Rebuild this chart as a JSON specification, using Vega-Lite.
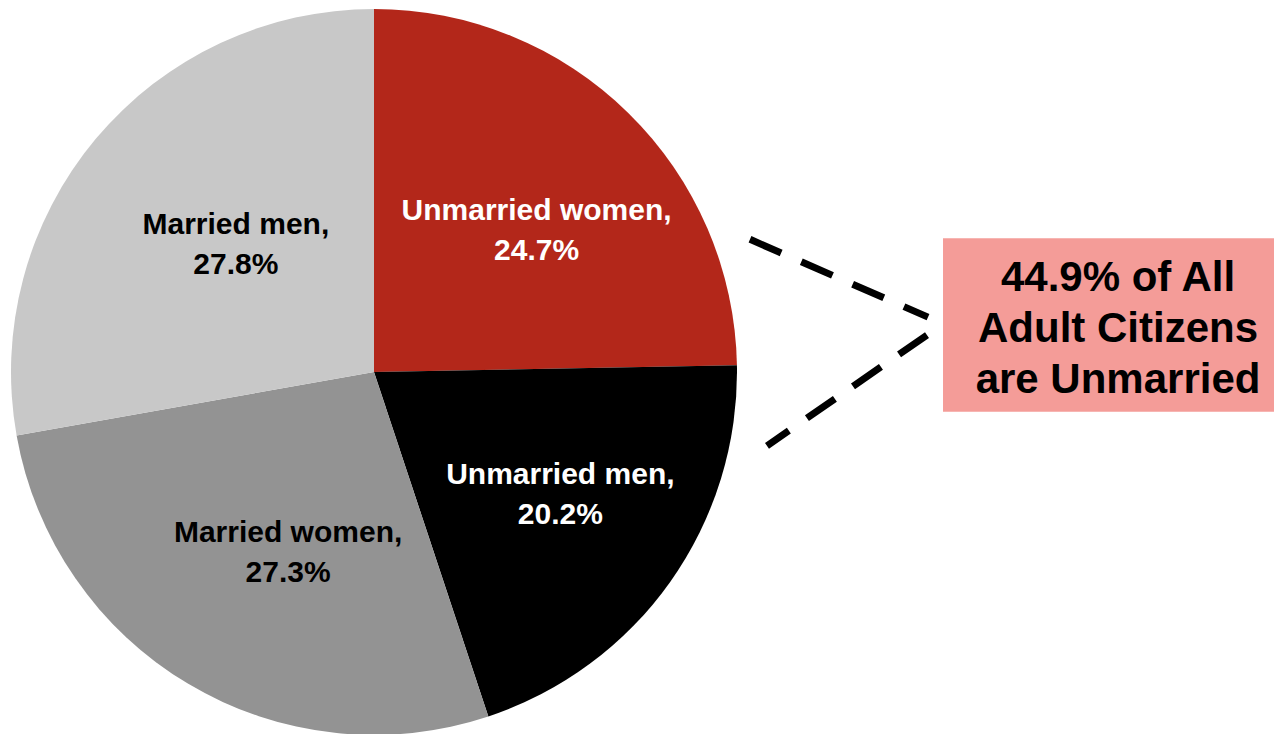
{
  "$schema": "https://vega.github.io/schema/vega-lite/v6.json",
  "width": 1274,
  "height": 734,
  "autosize": {"type": "fit", "contains": "padding"},
  "padding": 0,
  "background": "white",
  "config": {"view": {"stroke": null}, "axis": {"disable": true}, "legend": {"disable": true}},
  "datasets": {
    "slices": [
      {"group": "Unmarried women", "share": 0.247, "order": 1},
      {"group": "Unmarried men", "share": 0.202, "order": 2},
      {"group": "Married women", "share": 0.273, "order": 3},
      {"group": "Married men", "share": 0.278, "order": 4}
    ]
  },
  "layer": [
    {
      "data": {"name": "slices"},
      "mark": {"type": "arc", "radius": 363},
      "encoding": {
        "x": {"datum": 0, "type": "quantitative", "scale": {"domain": [-1.0303, 2.4793], "nice": false, "zero": false}},
        "y": {"datum": 0, "type": "quantitative", "scale": {"domain": [-0.9945, 1.0275], "nice": false, "zero": false}},
        "theta": {"field": "share", "type": "quantitative", "stack": true},
        "order": {"field": "order", "type": "quantitative"},
        "color": {"field": "group", "type": "nominal", "scale": {"domain": ["Unmarried women", "Unmarried men", "Married women", "Married men"], "range": ["#B3271A", "#000000", "#939393", "#C8C8C8"]}}
      }
    },
    {
      "data": {"name": "slices"},
      "transform": [{"calculate": "datum.group + ',\\n' + format(datum.share, '.1%')", "as": "label"}],
      "mark": {"type": "text", "radius": 205, "dx": 19, "dy": -15, "font": "Liberation Sans", "fontSize": 30, "fontWeight": "bold", "lineBreak": "\n", "lineHeight": 40, "align": "center", "baseline": "middle"},
      "encoding": {
        "x": {"datum": 0, "type": "quantitative", "scale": {"domain": [-1.0303, 2.4793], "nice": false, "zero": false}},
        "y": {"datum": 0, "type": "quantitative", "scale": {"domain": [-0.9945, 1.0275], "nice": false, "zero": false}},
        "theta": {"field": "share", "type": "quantitative", "stack": true},
        "order": {"field": "order", "type": "quantitative"},
        "text": {"field": "label", "type": "nominal"},
        "color": {"condition": {"test": "datum.order <= 2", "value": "#FFFFFF"}, "value": "#000000"}
      }
    },
    {
      "data": {"values": [{}]},
      "mark": {"type": "rule", "color": "#000000", "strokeWidth": 7, "strokeDash": [34, 22], "strokeCap": "butt"},
      "encoding": {
        "x": {"datum": 1.0358, "type": "quantitative", "scale": {"domain": [-1.0303, 2.4793], "nice": false, "zero": false}},
        "y": {"datum": 0.3664, "type": "quantitative", "scale": {"domain": [-0.9945, 1.0275], "nice": false, "zero": false}},
        "x2": {"datum": 1.5262},
        "y2": {"datum": 0.1515}
      }
    },
    {
      "data": {"values": [{}]},
      "mark": {"type": "rule", "color": "#000000", "strokeWidth": 7, "strokeDash": [34, 22], "strokeCap": "butt"},
      "encoding": {
        "x": {"datum": 1.5234, "type": "quantitative", "scale": {"domain": [-1.0303, 2.4793], "nice": false, "zero": false}},
        "y": {"datum": 0.1019, "type": "quantitative", "scale": {"domain": [-0.9945, 1.0275], "nice": false, "zero": false}},
        "x2": {"datum": 1.0826},
        "y2": {"datum": -0.2039}
      }
    },
    {
      "data": {"values": [{}]},
      "mark": {"type": "rect", "color": "#F49C98"},
      "encoding": {
        "x": {"datum": 1.5675, "type": "quantitative", "scale": {"domain": [-1.0303, 2.4793], "nice": false, "zero": false}},
        "y": {"datum": 0.3691, "type": "quantitative", "scale": {"domain": [-0.9945, 1.0275], "nice": false, "zero": false}},
        "x2": {"datum": 2.4793},
        "y2": {"datum": -0.1102}
      }
    },
    {
      "data": {"values": [{}]},
      "mark": {"type": "text", "text": ["44.9% of All", "Adult Citizens", "are Unmarried"], "font": "Liberation Sans", "fontSize": 42, "fontWeight": "bold", "lineHeight": 51, "align": "center", "baseline": "alphabetic", "color": "#000000"},
      "encoding": {
        "x": {"datum": 2.0496, "type": "quantitative", "scale": {"domain": [-1.0303, 2.4793], "nice": false, "zero": false}},
        "y": {"datum": 0.2240, "type": "quantitative", "scale": {"domain": [-0.9945, 1.0275], "nice": false, "zero": false}}
      }
    }
  ]
}
